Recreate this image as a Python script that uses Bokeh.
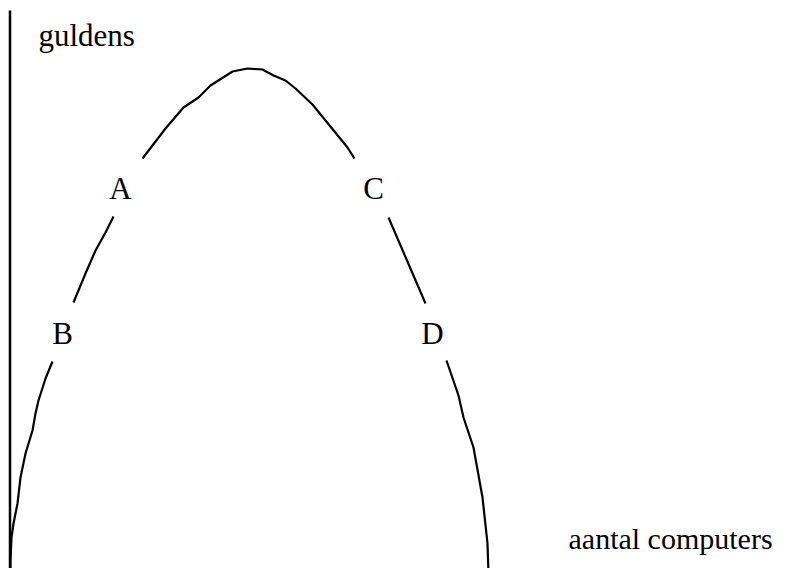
from bokeh.plotting import figure
from bokeh.models import Range1d
from bokeh.core.properties import value
from bokeh.embed import file_html
from bokeh.resources import INLINE

# Data in chart units (x: quantity axis, y: guldens axis)
axis_x = [9.5, 9.5]
axis_y = [558, -10]

top_x = [142, 165, 183, 198, 210, 232, 247, 262, 273, 285, 295, 312, 347, 354]
top_y = [410, 440, 461, 471, 483, 497, 500, 499, 493, 488, 480, 464, 421, 410]

ab_x = [113, 105, 95, 85, 73]
ab_y = [352, 336, 318, 295, 266]

b_low_x = [52, 45, 38, 35, 32, 25, 20, 17, 13, 11, 10, 10]
b_low_y = [207, 190, 168, 155, 138, 115, 91, 65, 45, 31, 8, -16]

cd_x = [388, 425]
cd_y = [351, 265]

d_low_x = [446, 458, 463, 473, 482, 487, 488, 490]
d_low_y = [208, 173, 151, 121, 71, 25, -5, -16]

point_labels = ["A", "B", "C", "D"]
point_x = [120, 62, 373, 432]
point_y = [380, 235, 380, 235]

y_label = "guldens"
y_label_x = [38]
y_label_y = [533]

x_label = "aantal computers"
x_label_x = [568]
x_label_y = [30]

p = figure(width=775, height=568, output_backend="svg", toolbar_location=None,
           x_range=Range1d(0, 775), y_range=Range1d(0, 568),
           min_border=0, outline_line_color=None)
p.axis.visible = False
p.grid.visible = False
p.background_fill_color = "white"
p.border_fill_color = "white"

p.line(axis_x, axis_y, line_color="black", line_width=2.5)
for xs, ys in [(top_x, top_y), (ab_x, ab_y), (b_low_x, b_low_y),
               (cd_x, cd_y), (d_low_x, d_low_y)]:
    p.line(xs, ys, line_color="black", line_width=2.2, line_join="round")

p.text(x=point_x, y=point_y, text=point_labels, text_font=value("Liberation Serif"),
       text_font_size="31px", text_align="center", text_baseline="alphabetic",
       text_color="black")
p.text(x=y_label_x, y=y_label_y, text=[y_label], text_font=value("Liberation Serif"),
       text_font_size="31px", text_align="left", text_baseline="alphabetic",
       text_color="black")
p.text(x=x_label_x, y=x_label_y, text=[x_label], text_font=value("Liberation Serif"),
       text_font_size="30px", text_align="left", text_baseline="alphabetic",
       text_color="black")

open("out.html", "w").write(file_html(p, INLINE))
